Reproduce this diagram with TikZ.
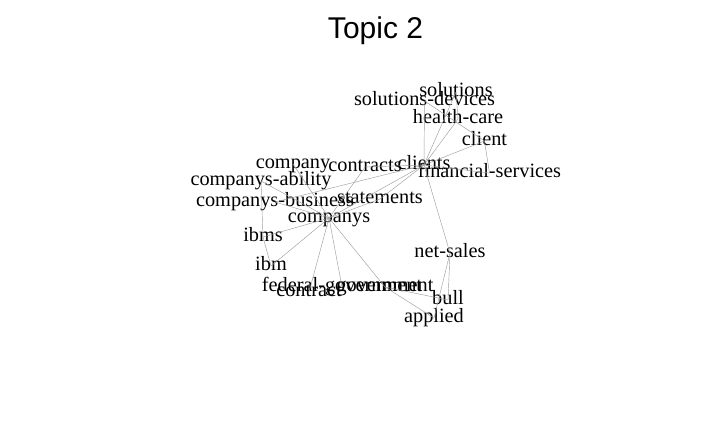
\documentclass[tikz,border=0pt]{standalone}
\usepackage{fontspec}
\setmainfont{Liberation Serif}
\newfontfamily\titlefont{Liberation Sans}
\begin{document}
\begin{tikzpicture}[x=1pt,y=-1pt,
  lbl/.style={font=\fontsize{20.3}{20}\selectfont, inner sep=0pt, text height=10pt, text depth=2pt, anchor=base},
  edge/.style={draw=black!38, line width=0.45pt}]
\useasboundingbox (0,0) rectangle (714,424);
\node[font=\titlefont\fontsize{30}{30}\selectfont, anchor=base, inner sep=0pt] (title) at (375.5,38) {Topic 2};
% nodes
\node[lbl] (solutions) at (456,96) {solutions};
\node[lbl] (soldev) at (424.5,105) {solutions-devices};
\node[lbl] (health) at (458,123) {health-care};
\node[lbl] (client) at (484.5,145) {client};
\node[lbl] (clients) at (424,169) {clients};
\node[lbl] (finserv) at (489.5,177) {financial-services};
\node[lbl] (contracts) at (365,171) {contracts};
\node[lbl] (company) at (293,168) {company};
\node[lbl] (cability) at (261,185) {companys-ability};
\node[lbl] (cbusiness) at (275,206) {companys-business};
\node[lbl] (statements) at (380,203) {statements};
\node[lbl] (companys) at (329,222) {companys};
\node[lbl] (ibms) at (263,241) {ibms};
\node[lbl] (ibm) at (271,270) {ibm};
\node[lbl] (netsales) at (450,257) {net-sales};
\node[lbl] (fedgov) at (342,291) {federal-government};
\node[lbl] (gov) at (385,291) {government};
\node[lbl] (contract) at (309,296) {contract};
\node[lbl] (bull) at (448,304) {bull};
\node[lbl] (applied) at (434,322) {applied};
% edges
\foreach \a/\b in {clients/soldev, clients/solutions, clients/health, clients/client,
  clients/finserv, soldev/client, client/finserv, solutions/health,
  clients/contracts, clients/statements, clients/companys, clients/cbusiness,
  clients/netsales, contracts/companys,
  companys/company, companys/cability, companys/cbusiness, companys/statements,
  companys/ibms, companys/ibm, companys/contract, companys/fedgov, companys/gov,
  cability/ibms, ibms/ibm,
  gov/applied, gov/bull, netsales/bull, netsales/applied}
  \draw[edge] (\a.center) -- (\b.center);
\end{tikzpicture}
\end{document}
